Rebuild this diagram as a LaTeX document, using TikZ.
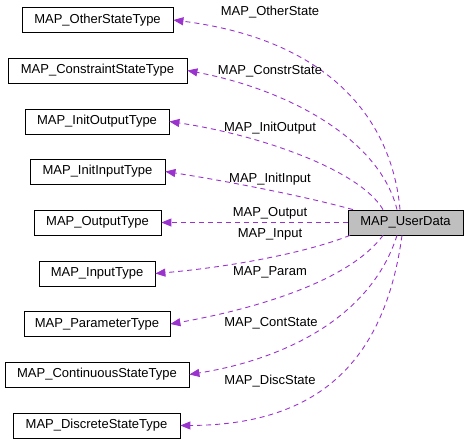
\documentclass[tikz,border=0pt]{standalone}
\usepackage{fontspec}
\setmainfont{Liberation Sans}
\usetikzlibrary{arrows.meta}

\definecolor{depcol}{HTML}{9A32CD}
\definecolor{udgray}{HTML}{BFBFBF}

\tikzset{
	cls/.style = {draw, line width=0.8pt, minimum height=25pt, inner xsep=6pt, font=\fontsize{13}{15}\selectfont},
	dep/.style = {depcol, line width=0.9pt, dash pattern=on 5pt off 4pt, -{Triangle[length=10pt,width=8pt]}},
	lbl/.style = {font=\fontsize{13}{15}\selectfont, inner sep=0pt}
}

\begin{document}
\begin{tikzpicture}[x=1pt, y=-1pt]
		\useasboundingbox (0,0) rectangle (468,444);

		% the struct in the middle
		\node[cls, fill=udgray, minimum width=115pt] (ud) at (405.5,222.5) {MAP\_UserData};

		% the member types on the left
		\node[cls, minimum width=151pt] (other) at (97.5,20) {MAP\_OtherStateType};
		\node[cls, minimum width=179pt] (constr) at (97.5,70.5) {MAP\_ConstraintStateType};
		\node[cls, minimum width=144pt] (initout) at (97,121.5) {MAP\_InitOutputType};
		\node[cls, minimum width=135pt] (initin) at (97.5,171.5) {MAP\_InitInputType};
		\node[cls, minimum width=127pt] (output) at (97.5,222.5) {MAP\_OutputType};
		\node[cls, minimum width=116pt] (input) at (97,273.5) {MAP\_InputType};
		\node[cls, minimum width=146pt] (param) at (97,324) {MAP\_ParameterType};
		\node[cls, minimum width=184pt] (cont) at (97,374.5) {MAP\_ContinuousStateType};
		\node[cls, minimum width=167pt] (disc) at (96.5,425.5) {MAP\_DiscreteStateType};

		% members above
		\draw[dep] ([xshift=-5.5pt]ud.north) .. controls (392,120) and (330,40) .. (other.east);
		\draw[dep] ([xshift=-8.5pt]ud.north) .. controls (380,140) and (290,90) .. (constr.east);
		\draw[dep] ([xshift=-22.5pt]ud.north) .. controls (360,170) and (260,135) .. (initout.east);
		\draw[dep] ([xshift=-52.5pt]ud.north) .. controls (300,195) and (220,180) .. (initin.east);
		\draw[dep] (ud.west) -- (output.east);

		% members below
		\draw[dep] ([xshift=-55.5pt]ud.south) .. controls (300,255) and (220,268) .. (input.east);
		\draw[dep] ([xshift=-22.5pt]ud.south) .. controls (350,280) and (260,308) .. (param.east);
		\draw[dep] ([xshift=-8.5pt]ud.south) .. controls (370,320) and (280,360) .. (cont.east);
		\draw[dep] ([xshift=-3.5pt]ud.south) .. controls (385,360) and (320,425) .. (disc.east);

		% member names
		\node[lbl] (lother) at (270,12) {MAP\_OtherState};
		\node[lbl] (lconstr) at (270,71) {MAP\_ConstrState};
		\node[lbl] (linitout) at (270,128) {MAP\_InitOutput};
		\node[lbl] (linitin) at (270,179) {MAP\_InitInput};
		\node[lbl] (loutput) at (270,213) {MAP\_Output};
		\node[lbl] (linput) at (270,234) {MAP\_Input};
		\node[lbl] (lparam) at (270,272) {MAP\_Param};
		\node[lbl] (lcont) at (271,323) {MAP\_ContState};
		\node[lbl] (ldisc) at (270,381) {MAP\_DiscState};
\end{tikzpicture}
\end{document}
